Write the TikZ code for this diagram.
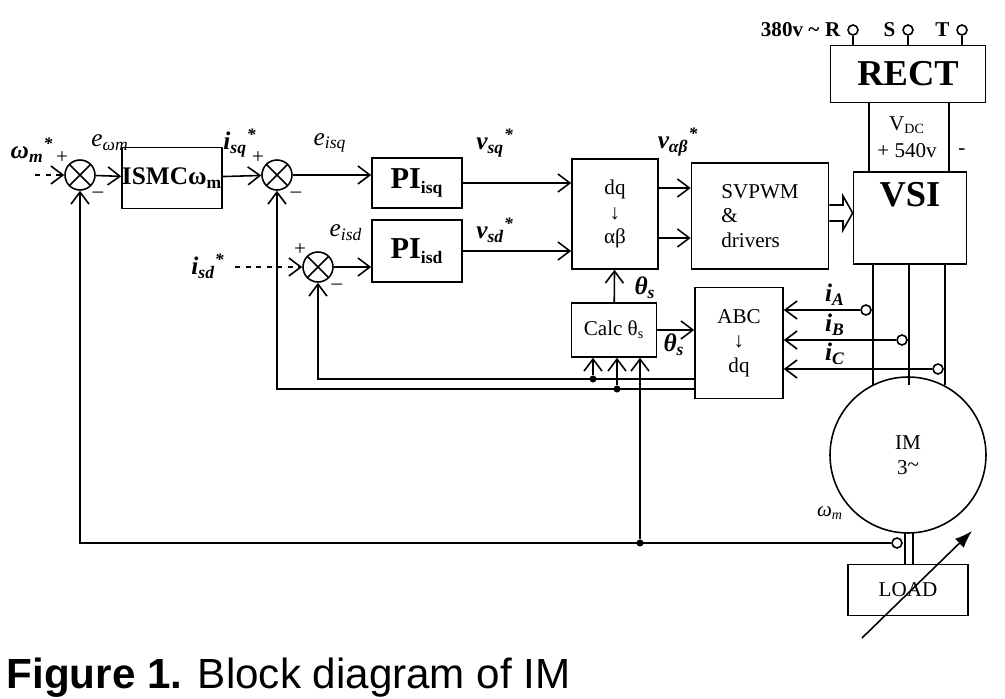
\documentclass[tikz,border=0pt]{standalone}
\usepackage{fontspec}
\setmainfont{Liberation Serif}
\newfontfamily\capfont{Liberation Sans}
\usetikzlibrary{positioning,calc,arrows.meta}

\begin{document}
\begin{tikzpicture}[x=0.02cm,y=-0.02cm,
    line width=0.9pt,
    >={Straight Barb[length=2.4mm,width=3.6mm,line width=0.9pt]},
    blk/.style={draw, rectangle, inner sep=0pt},
    sumnode/.style={draw, circle, minimum size=0.6cm, inner sep=0pt,
        path picture={\draw (path picture bounding box.north west) -- (path picture bounding box.south east)
            (path picture bounding box.north east) -- (path picture bounding box.south west);}},
    sensor/.style={draw, circle, minimum size=0.2cm, inner sep=0pt, fill=white},
    sig/.style={font=\bfseries\itshape\Large},
    err/.style={font=\itshape\Large},
    junc/.style={circle, fill, inner sep=0pt, minimum size=4pt}
]
    \useasboundingbox (0,0) rectangle (1005,699);
    \clip (0,0) rectangle (1005,699);

    % blocks
    \node [sumnode] (s1) at (80,175) {};
    \node [sumnode] (s2) at (277,175) {};
    \node [sumnode] (s3) at (318,267) {};
    \node [blk, minimum width=1.8cm, minimum height=1.22cm, font=\bfseries\Large] (ismc) at (172,178) {ISMCω\textsubscript{m}};
    \node [blk, minimum width=1.8cm, minimum height=1cm, font=\bfseries\LARGE] (piq) at (417,183) {PI\textsubscript{\normalsize isq}};
    \node [blk, minimum width=1.8cm, minimum height=1.24cm, font=\bfseries\LARGE] (pid) at (417,251) {PI\textsubscript{\normalsize isd}};
    \node [blk, minimum width=1.72cm, minimum height=2.2cm, font=\large, align=center] (dqab) at (615,214) {dq\\↓\\αβ};
    \node [blk, minimum width=2.74cm, minimum height=2.12cm, font=\large, align=left] (svpwm) at (760,216) {SVPWM\\\&\\drivers};
    \node [blk, minimum width=2.26cm, minimum height=1.84cm] (vsi) at (910,218) {};
    \node [font=\bfseries\huge] at (910,195) {VSI};
    \node [blk, minimum width=3.1cm, minimum height=1.14cm, font=\bfseries\huge] (rect) at (908,74) {RECT};
    \node [blk, minimum width=1.7cm, minimum height=1.08cm, font=\large] (calc) at (614,330) {Calc θ\textsubscript{s}};
    \node [blk, minimum width=1.76cm, minimum height=2.22cm, font=\large, align=center] (abc) at (739,343) {ABC\\↓\\dq};
    \node [draw, circle, minimum size=3.12cm, inner sep=0pt, font=\large, align=center] (im) at (908,455) {IM\\3\raisebox{0.3ex}{\textasciitilde}};
    \node [blk, minimum width=2.4cm, minimum height=1.02cm, font=\large] (load) at (908,590) {LOAD};

    % main forward path
    \draw [->, dashed] (35,175) -- (s1);
    \draw [->] (s1) -- (ismc);
    \draw [->] (ismc) -- (s2);
    \draw [->] (s2) -- (s2 -| piq.west);
    \draw [->, dashed] (235,267) -- (s3);
    \draw [->] (s3) -- (s3 -| pid.west);
    \draw [->] (piq) -- (piq -| dqab.west);
    \draw [->] (pid) -- (pid -| dqab.west);
    \draw [->] (dqab.east |- 0,188) -- (svpwm.west |- 0,188);
    \draw [->] (dqab.east |- 0,238) -- (svpwm.west |- 0,238);
    \draw (svpwm.east |- 0,205) -- (843,205) -- (843,196) -- (vsi.west |- 0,213) -- (843,230) -- (843,221) -- (svpwm.east |- 0,221);
    \draw [->] (calc) -- (dqab);
    \draw [->] (calc) -- (abc.west |- calc);

    % supply
    \draw (869,103) -- (869,172) (949,103) -- (949,172);
    \node [font=\large] (vdc) at (907,125) {V\textsubscript{DC}};
    \node [font=\large] (vdcval) at (907,151) {+ 540v};
    \node [font=\large] (vneg) at (962,152) {-};
    \foreach \x/\ph in {853/R, 908/S, 962/T} {
        \node [sensor] (t\ph) at (\x,30) {};
        \draw (t\ph.south) -- (\x,46);
        \node [font=\bfseries\large, anchor=east] at (\x-6,30) {\ph};
    }
    \node [font=\bfseries\large, anchor=east] at (826,30) {380v \textasciitilde};

    % phases and current sensors
    \foreach \x/\y/\ph in {873/310/A, 909/340/B, 945/369/C} {
        \draw (\x,264) -- (\x,385);
        \node [sensor] (c\ph) at (\x-7,\y) {};
        \draw [->] (c\ph) -- (abc.east |- c\ph);
        \node [sig] at (835,\y-15) {i\textsubscript{\normalsize\ph}};
    }

    % feedback paths
    \draw [->] (abc.west |- 0,379) -- (s3 |- 0,379) -- (s3);
    \draw [->] (abc.west |- 0,389) -- (s2 |- 0,389) -- (s2);
    \node [junc] (j1) at (593,379) {};
    \node [junc] (j2) at (617,389) {};
    \node [junc] (j3) at (640,543) {};
    \draw [->] (j1) -- (j1 |- calc.south);
    \draw [->] (j2) -- (j2 |- calc.south);
    \draw [->] (j3) -- (j3 |- calc.south);
    \node [sensor] (spd) at (897,543) {};
    \draw [->] (spd) -- (80,543) -- (s1);
    \draw (905,533) -- (905,564) (913,533) -- (913,564);
    \draw [-{Latex[length=3.5mm,width=2.5mm]}] (862,638) -- (972,531);

    % signs and labels
    \node [font=\large] at (62,158) {+};
    \node [font=\large] at (98,195) {--};
    \node [font=\large] at (258,158) {+};
    \node [font=\large] at (296,195) {--};
    \node [font=\large] at (300,250) {+};
    \node [font=\large] at (337,287) {--};
    \node [sig] at (32,150) {ω\textsubscript{m}\textsuperscript{*}};
    \node [err] at (110,143) {e\textsubscript{\normalsize ωm}};
    \node [sig] at (240,143) {i\textsubscript{\normalsize sq}\textsuperscript{*}};
    \node [err] at (330,143) {e\textsubscript{\normalsize isq}};
    \node [err] at (346,233) {e\textsubscript{\normalsize isd}};
    \node [sig] at (208,266) {i\textsubscript{\normalsize sd}\textsuperscript{*}};
    \node [sig] at (495,143) {v\textsubscript{\normalsize sq}\textsuperscript{*}};
    \node [sig] at (495,230) {v\textsubscript{\normalsize sd}\textsuperscript{*}};
    \node [sig] at (678,142) {v\textsubscript{\normalsize αβ}\textsuperscript{*}};
    \node [sig] at (645,288) {θ\textsubscript{\normalsize s}};
    \node [sig] at (674,345) {θ\textsubscript{\normalsize s}};
    \node [font=\itshape\large] at (830,513) {ω\textsubscript{m}};

    % caption
    \node [anchor=base west, font=\capfont\fontsize{24}{28}\selectfont] at (0,688) {\textbf{Figure 1.} Block diagram of IM};
\end{tikzpicture}
\end{document}
